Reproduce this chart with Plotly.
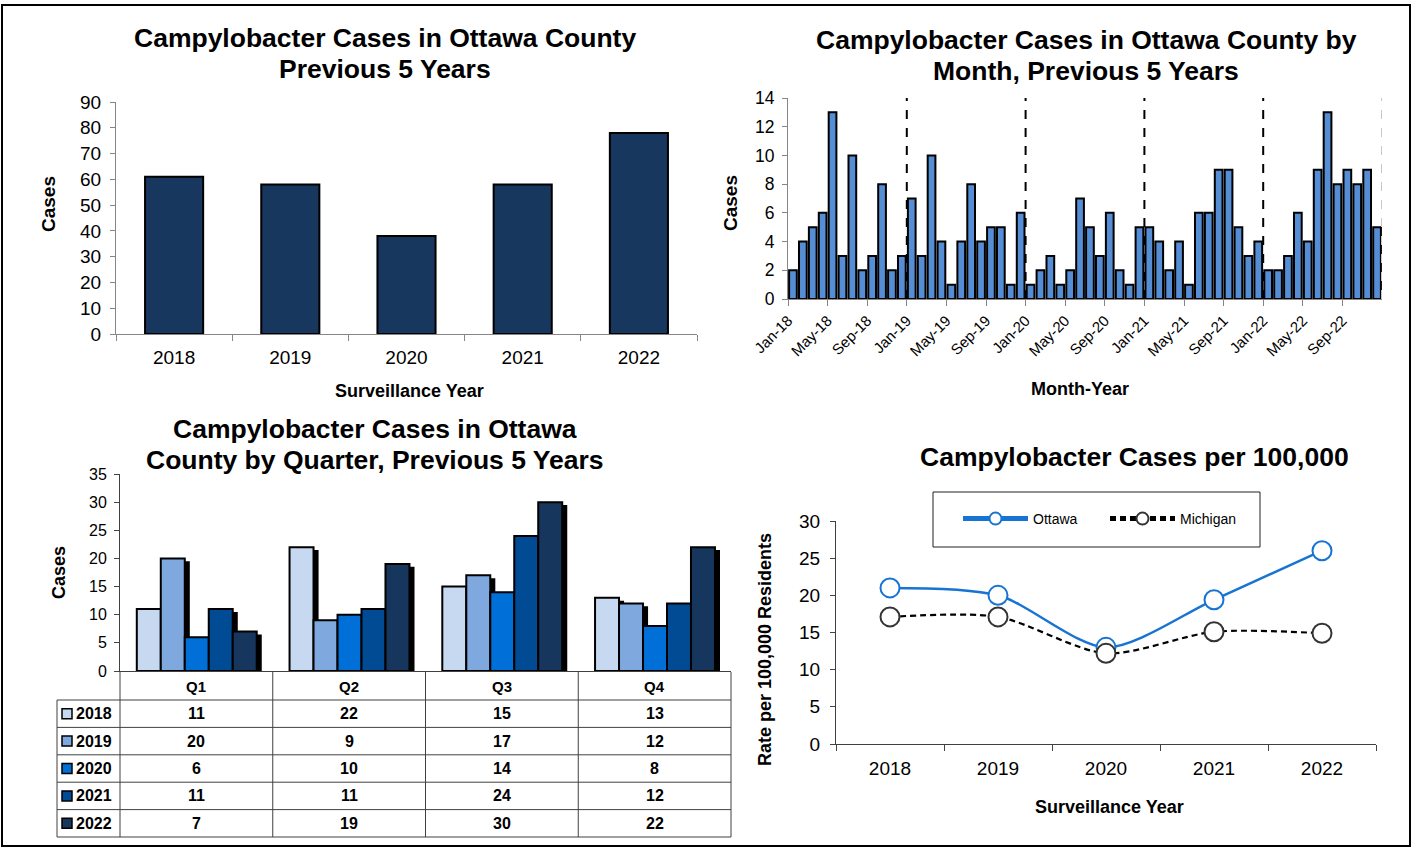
import plotly.graph_objects as go

# ---- data ----
years = ["2018", "2019", "2020", "2021", "2022"]
annual_cases = [61, 58, 38, 58, 78]

monthly_cases = [
    2, 4, 5, 6, 13, 3, 10, 2, 3, 8, 2, 3,      # 2018
    7, 3, 10, 4, 1, 4, 8, 4, 5, 5, 1, 6,       # 2019
    1, 2, 3, 1, 2, 7, 5, 3, 6, 2, 1, 5,        # 2020
    5, 4, 2, 4, 1, 6, 6, 9, 9, 5, 3, 4,        # 2021
    2, 2, 3, 6, 4, 9, 13, 8, 9, 8, 9, 5,       # 2022
]
month_ticks = ["Jan-18", "May-18", "Sep-18", "Jan-19", "May-19", "Sep-19",
               "Jan-20", "May-20", "Sep-20", "Jan-21", "May-21", "Sep-21",
               "Jan-22", "May-22", "Sep-22"]

quarters = ["Q1", "Q2", "Q3", "Q4"]
quarter_cases = {
    "2018": [11, 22, 15, 13],
    "2019": [20, 9, 17, 12],
    "2020": [6, 10, 14, 8],
    "2021": [11, 11, 24, 12],
    "2022": [7, 19, 30, 22],
}
quarter_colors = ["#C6D9F1", "#7EA8DE", "#0070D8", "#004B93", "#17365D"]

ottawa_rate = [21.0, 20.0, 13.0, 19.4, 26.0]
michigan_rate = [17.1, 17.1, 12.2, 15.1, 14.9]

# ---- layout helpers (pixel -> paper) ----
W, H = 1413, 848
FONT = "Liberation Sans, Arial, sans-serif"


def px(x):
    return x / W


def py(y):
    return 1 - y / H


fig = go.Figure()
annotations = []
shapes = []


def label(text, x, y, size, bold=True, angle=0, xanchor="center", yanchor="middle"):
    annotations.append(dict(
        text=f"<b>{text}</b>" if bold else text,
        x=px(x), y=py(y), xref="paper", yref="paper",
        xanchor=xanchor, yanchor=yanchor, showarrow=False, textangle=angle,
        font=dict(family=FONT, size=size, color="black"),
    ))


def title(lines, x, y, size=26.5, spacing=31):
    for i, t in enumerate(lines):
        label(t, x, y + i * spacing, size)


# ---- 1: annual bars ----
fig.add_trace(go.Bar(
    x=years, y=annual_cases, width=0.5,
    marker=dict(color="#17375E", line=dict(color="black", width=2)),
    xaxis="x", yaxis="y", showlegend=False,
))

# ---- 2: monthly bars ----
month_idx = [i + 0.5 for i in range(len(monthly_cases))]
fig.add_trace(go.Bar(
    x=month_idx, y=monthly_cases, width=0.78,
    marker=dict(color="#558ED5", line=dict(color="black", width=2)),
    xaxis="x2", yaxis="y2", showlegend=False,
))
for k in range(1, len(years) + 1):
    shapes.append(dict(
        type="line", xref="x2", yref="y2 domain", x0=12 * k, x1=12 * k, y0=0, y1=1,
        line=dict(color="black" if k < len(years) else "#C8C8C8", width=2, dash="dash"),
    ))

# ---- 3: quarterly bars with shadow ----
bw = 0.157
start = -0.39
for j, yr in enumerate(years):
    fig.add_trace(go.Bar(
        x=quarters, y=[v - 0.5 for v in quarter_cases[yr]], width=bw, offset=start + j * bw + 0.033,
        marker=dict(color="black", line=dict(width=0)),
        xaxis="x3", yaxis="y3", showlegend=False, hoverinfo="skip",
    ))
for j, yr in enumerate(years):
    fig.add_trace(go.Bar(
        x=quarters, y=quarter_cases[yr], width=bw, offset=start + j * bw, name=yr,
        marker=dict(color=quarter_colors[j], line=dict(color="black", width=2)),
        xaxis="x3", yaxis="y3", showlegend=False,
    ))

# ---- 4: rate per 100,000 ----
fig.add_trace(go.Scatter(
    x=years, y=ottawa_rate, name="Ottawa", mode="lines+markers",
    line=dict(color="#1874D2", width=2.5, shape="spline", smoothing=0.8),
    marker=dict(symbol="circle", size=19, color="white", line=dict(color="#1874D2", width=2)),
    xaxis="x4", yaxis="y4",
))
fig.add_trace(go.Scatter(
    x=years, y=michigan_rate, name="Michigan", mode="lines+markers",
    line=dict(color="black", width=2.2, dash="6px,4px", shape="spline", smoothing=0.8),
    marker=dict(symbol="circle", size=19, color="white", line=dict(color="#333333", width=2)),
    xaxis="x4", yaxis="y4",
))

# ---- axes ----
tick_font = dict(family=FONT, size=19, color="black")
common_y = dict(showgrid=False, zeroline=False, showline=True, ticks="outside", ticklen=5,
                tickfont=tick_font, fixedrange=True, automargin=False, ticklabelstandoff=5)
common_x = dict(showgrid=False, zeroline=False, showline=True, ticks="outside", ticklen=6,
                tickfont=tick_font, fixedrange=True, automargin=False)

axes = dict(
    xaxis=dict(common_x, domain=[px(116), px(697)], anchor="y", tickson="boundaries",
               linecolor="#868686", tickcolor="#868686", ticklabelstandoff=6),
    yaxis=dict(common_y, domain=[py(334), py(102)], anchor="x", range=[0, 90], dtick=10,
               linecolor="#868686", tickcolor="#868686"),
    xaxis2=dict(common_x, domain=[px(788), px(1382)], anchor="y2", range=[0, 60],
                tickvals=list(range(0, 60, 4)), ticktext=month_ticks, tickangle=-45,
                tickfont=dict(family=FONT, size=15, color="black"),
                linecolor="#868686", tickcolor="#868686"),
    yaxis2=dict(common_y, domain=[py(299), py(98)], anchor="x2", range=[0, 14], dtick=2,
                tickfont=dict(family=FONT, size=17.5, color="black"),
                linecolor="#868686", tickcolor="#868686", ticklabelstandoff=4),
    xaxis3=dict(common_x, domain=[px(120), px(731)], anchor="y3", showticklabels=False,
                ticks="", linecolor="#404040", range=[-0.5, 3.5]),
    yaxis3=dict(common_y, domain=[py(671), py(474)], anchor="x3", range=[0, 35], dtick=5,
                tickfont=dict(family=FONT, size=16, color="black"), linecolor="#404040",
                ticklabelstandoff=4),
    xaxis4=dict(common_x, domain=[px(836), px(1376)], anchor="y4", tickson="boundaries",
                linecolor="#404040", range=[-0.5, 4.5], ticklabelstandoff=7),
    yaxis4=dict(common_y, domain=[py(744), py(521)], anchor="x4", range=[0, 30], dtick=5,
                tickfont=dict(family=FONT, size=19, color="black"), linecolor="#404040",
                ticklabelstandoff=6),
)

# ---- titles ----
title(["Campylobacter Cases in Ottawa County", "Previous 5 Years"], 385, 38)
title(["Campylobacter Cases in Ottawa County by", "Month, Previous 5 Years"], 1086, 40)
title(["Campylobacter Cases in Ottawa", "County by Quarter, Previous 5 Years"], 375, 429)
title(["Campylobacter Cases per 100,000"], 1134, 457)

label("Cases", 48, 204, 19, angle=-90)
label("Surveillance Year", 410, 391, 18)
label("Cases", 731, 203, 19, angle=-90)
label("Month-Year", 1080, 389, 18)
label("Cases", 59, 573, 18, angle=-90)
label("Rate per 100,000 Residents", 765, 650, 18, angle=-90)
label("Surveillance Year", 1109, 807, 18)

# ---- data table under the quarterly chart ----
tab_left, col0, tab_right = 57, 120, 731
head_top, head_bot, row_h = 672, 700, 27.4
col_w = (tab_right - col0) / len(quarters)
line_c = "#404040"
tab_bottom = head_bot + row_h * len(years)


def hline(y, x0, x1):
    shapes.append(dict(type="line", xref="paper", yref="paper", x0=px(x0), x1=px(x1),
                       y0=py(y), y1=py(y), line=dict(color=line_c, width=1)))


def vline(x, y0, y1):
    shapes.append(dict(type="line", xref="paper", yref="paper", x0=px(x), x1=px(x),
                       y0=py(y0), y1=py(y1), line=dict(color=line_c, width=1)))


for r in range(len(years) + 1):
    hline(head_bot + r * row_h, tab_left, tab_right)
vline(tab_left, head_bot, tab_bottom)
for c in range(len(quarters) + 1):
    vline(col0 + c * col_w, head_top, tab_bottom)

for c, q in enumerate(quarters):
    label(q, col0 + (c + 0.5) * col_w, (head_top + head_bot) / 2, 15)
for r, yr in enumerate(years):
    yc = head_bot + (r + 0.5) * row_h
    shapes.append(dict(type="rect", xref="paper", yref="paper",
                       x0=px(62), x1=px(72), y0=py(yc + 5), y1=py(yc - 5),
                       fillcolor=quarter_colors[r], line=dict(color="black", width=1.5)))
    label(yr, 74, yc, 16, xanchor="left")
    for c, v in enumerate(quarter_cases[yr]):
        label(str(v), col0 + (c + 0.5) * col_w, yc, 16)

# ---- legend box for the rate chart ----
shapes.append(dict(type="rect", xref="paper", yref="paper",
                   x0=px(933), x1=px(1260), y0=py(547), y1=py(492),
                   line=dict(color="#202020", width=1), fillcolor="rgba(0,0,0,0)"))

# ---- outer frame ----
shapes.append(dict(type="rect", xref="paper", yref="paper",
                   x0=px(2), x1=px(1410), y0=py(846), y1=py(5),
                   line=dict(color="black", width=2)))

fig.update_layout(
    width=W, height=H,
    margin=dict(l=0, r=0, t=0, b=0, pad=0, autoexpand=False),
    paper_bgcolor="white", plot_bgcolor="white",
    font=dict(family=FONT, color="black"),
    barmode="overlay",
    annotations=annotations,
    shapes=shapes,
    legend=dict(orientation="h", x=px(958), y=py(519), xanchor="left", yanchor="middle",
                font=dict(family=FONT, size=14, color="black"), itemsizing="constant",
                itemwidth=65, entrywidth=67, bgcolor="rgba(0,0,0,0)"),
    **axes,
)

fig.write_html("out.html", config={"displayModeBar": False},
               post_script="document.body.style.margin='0';")
